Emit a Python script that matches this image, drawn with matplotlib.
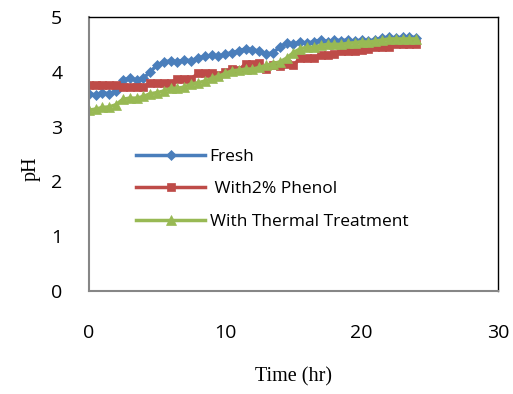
import matplotlib
matplotlib.use("Agg")
import matplotlib.pyplot as plt

time_hr = [0, 0.5, 1, 1.5, 2, 2.5, 3, 3.5, 4, 4.5, 5, 5.5, 6, 6.5, 7, 7.5, 8, 8.5, 9, 9.5,
           10, 10.5, 11, 11.5, 12, 12.5, 13, 13.5, 14, 14.5, 15, 15.5, 16, 16.5, 17, 17.5,
           18, 18.5, 19, 19.5, 20, 20.5, 21, 21.5, 22, 22.5, 23, 23.5, 24]

fresh = [3.60, 3.58, 3.62, 3.60, 3.65, 3.85, 3.88, 3.85, 3.88, 4.00, 4.12, 4.18, 4.20, 4.18,
         4.22, 4.20, 4.25, 4.28, 4.30, 4.28, 4.32, 4.35, 4.38, 4.42, 4.40, 4.38, 4.32, 4.35,
         4.45, 4.52, 4.50, 4.55, 4.52, 4.55, 4.58, 4.55, 4.58, 4.57, 4.58, 4.56, 4.58, 4.57,
         4.58, 4.62, 4.63, 4.62, 4.63, 4.64, 4.62]

phenol = [3.75, 3.75, 3.75, 3.75, 3.75, 3.72, 3.72, 3.72, 3.72, 3.80, 3.80, 3.80, 3.80, 3.87,
          3.87, 3.87, 3.97, 3.97, 3.97, 3.95, 4.00, 4.05, 4.03, 4.15, 4.15, 4.16, 4.05, 4.12,
          4.10, 4.15, 4.12, 4.25, 4.25, 4.26, 4.30, 4.31, 4.32, 4.37, 4.37, 4.38, 4.40, 4.42,
          4.45, 4.45, 4.46, 4.50, 4.50, 4.50, 4.50]

thermal = [3.30, 3.32, 3.35, 3.36, 3.40, 3.50, 3.52, 3.52, 3.55, 3.60, 3.62, 3.65, 3.70, 3.70,
           3.72, 3.78, 3.80, 3.83, 3.88, 3.92, 3.97, 4.02, 4.03, 4.05, 4.05, 4.08, 4.12, 4.15,
           4.18, 4.25, 4.35, 4.42, 4.45, 4.45, 4.48, 4.50, 4.50, 4.50, 4.52, 4.53, 4.55, 4.54,
           4.56, 4.58, 4.60, 4.60, 4.60, 4.60, 4.60]

labels = ["Fresh", " With2% Phenol", "With Thermal Treatment"]
colors = ["#4a7ebb", "#be4b48", "#98b954"]
markers = ["D", "s", "^"]
msizes = [5.5, 5.5, 6.5]

fig = plt.figure(figsize=(5.13, 3.94), dpi=100)
ax = fig.add_axes([0.173, 0.261, 0.798, 0.696])

for ys, lab, c, m, ms in zip([fresh, phenol, thermal], labels, colors, markers, msizes):
    ax.plot(time_hr, ys, color=c, marker=m, markersize=ms, markeredgewidth=0.5,
            linewidth=2.5, label=lab)

ax.set_xlim(0, 30)
ax.set_ylim(0, 5)
ax.set_xticks([0, 10, 20, 30])
ax.set_yticks([0, 1, 2, 3, 4, 5])
ax.tick_params(axis="both", length=0, labelsize=14)
ax.tick_params(axis="y", pad=19)
ax.tick_params(axis="x", pad=24)
for lbl in ax.get_xticklabels() + ax.get_yticklabels():
    lbl.set_family("Open Sans")

ax.spines["left"].set_color("#868686")
ax.spines["left"].set_linewidth(1.5)
ax.spines["bottom"].set_color("#868686")
ax.spines["bottom"].set_linewidth(1.5)
ax.spines["top"].set_color("black")
ax.spines["right"].set_color("black")
ax.spines["top"].set_linewidth(1.0)
ax.spines["right"].set_linewidth(1.0)

ax.set_xlabel("Time (hr)", family="Liberation Serif", fontsize=14.5, labelpad=18)
ax.set_ylabel("pH", family="Liberation Serif", fontsize=14.5)
ax.yaxis.set_label_coords(-0.118, 0.445)

leg = ax.legend(loc="upper left", bbox_to_anchor=(0.098, 0.545), frameon=False,
                prop={"family": "Open Sans", "size": 12.5}, handlelength=4.0,
                handletextpad=0.25, labelspacing=0.95, borderaxespad=0)

fig.savefig("out.png", dpi=100)
